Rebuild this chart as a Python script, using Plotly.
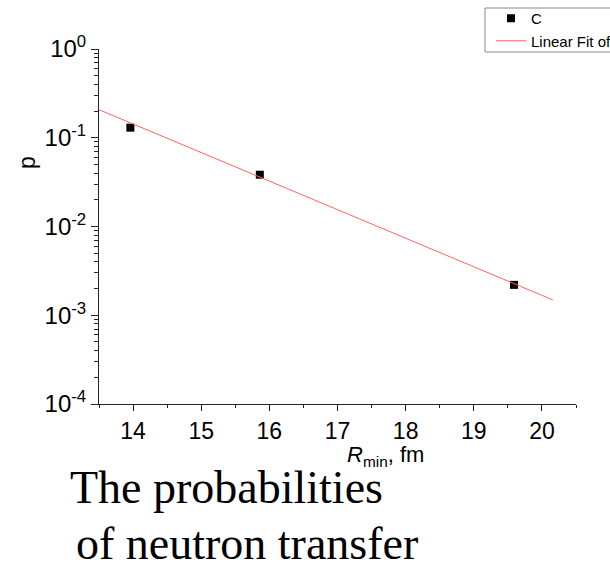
import plotly.graph_objects as go

# Data
r_min = [13.96, 15.86, 19.59]
prob = [0.13, 0.0383, 0.0022]
fit_x = [13.5, 20.16]
fit_y = [0.207, 0.00149]

x_tickvals = [14, 15, 16, 17, 18, 19, 20]
x_minor = [13.5, 14.5, 15.5, 16.5, 17.5, 18.5, 19.5, 20.5]
y_tickvals = [1e-4, 1e-3, 1e-2, 1e-1, 1]
y_ticktext = ["10<sup>-4</sup>", "10<sup>-3</sup>", "10<sup>-2</sup>", "10<sup>-1</sup>", "10<sup>0</sup>"]
y_minor = [k * 10.0 ** e for e in range(-4, 0) for k in range(2, 10)]

W, H = 610, 566
L, R, T, B = 99, 34, 49, 162
pw, ph = W - L - R, H - T - B

def px(xpix):
    return (xpix - L) / pw

def py(ypix):
    return (H - B - ypix) / ph

FONT = "Arial, Liberation Sans, sans-serif"
AX = "#222222"

fig = go.Figure()
fig.add_trace(go.Scatter(x=r_min, y=prob, mode="markers", name="C",
                         marker=dict(symbol="square", size=8, color="black",
                                     line=dict(width=0))))
fig.add_trace(go.Scatter(x=fit_x, y=fit_y, mode="lines", name="Linear Fit of C",
                         line=dict(color="#ff6464", width=1)))
# invisible carriers so the minor-tick overlay axes get drawn
fig.add_trace(go.Scatter(x=[None], y=[None], xaxis="x2", yaxis="y", showlegend=False,
                         hoverinfo="skip"))
fig.add_trace(go.Scatter(x=[None], y=[None], xaxis="x", yaxis="y2", showlegend=False,
                         hoverinfo="skip"))

fig.update_layout(
    width=W, height=H,
    margin=dict(l=L, r=R, t=T, b=B, autoexpand=False),
    paper_bgcolor="white", plot_bgcolor="white",
    font=dict(family=FONT, color="black"),
    legend=dict(x=px(491), y=py(2), xanchor="left", yanchor="top",
                borderwidth=0, bgcolor="rgba(0,0,0,0)",
                font=dict(size=15, family=FONT), tracegroupgap=0,
                itemwidth=30),
    showlegend=True,
    xaxis=dict(range=[13.5, 20.5], showgrid=False, zeroline=False,
               showline=True, linecolor=AX, linewidth=1,
               ticks="outside", ticklen=6, tickcolor=AX, tickwidth=1,
               tickmode="array", tickvals=x_tickvals,
               ticktext=[str(v) for v in x_tickvals],
               tickfont=dict(size=23, family=FONT)),
    yaxis=dict(type="log", range=[-4, 0], showgrid=False, zeroline=False,
               showline=True, linecolor=AX, linewidth=1,
               ticks="outside", ticklen=7, tickcolor=AX, tickwidth=1,
               tickmode="array", tickvals=y_tickvals, ticktext=y_ticktext,
               tickfont=dict(size=24, family=FONT)),
    xaxis2=dict(overlaying="x", anchor="y", side="bottom", range=[13.5, 20.5],
                tickmode="array", tickvals=x_minor, ticks="outside", ticklen=3,
                tickcolor=AX, tickwidth=1, showticklabels=False, showline=False,
                showgrid=False, zeroline=False),
    yaxis2=dict(overlaying="y", anchor="x", side="left", type="log", range=[-4, 0],
                tickmode="array", tickvals=y_minor, ticks="outside", ticklen=4,
                tickcolor=AX, tickwidth=1, showticklabels=False, showline=False,
                showgrid=False, zeroline=False),
)

# legend frame
fig.add_shape(type="rect", xref="paper", yref="paper",
              x0=px(485), x1=px(640), y0=py(52), y1=py(8),
              line=dict(color="#888888", width=1), fillcolor="rgba(0,0,0,0)")

# axis titles
fig.add_annotation(x=px(385), y=py(456), xref="paper", yref="paper",
                   text="<i>R</i><sub>min</sub>, fm", showarrow=False,
                   font=dict(size=22, family=FONT), xanchor="center", yanchor="middle")
fig.add_annotation(x=px(27), y=py(163), xref="paper", yref="paper",
                   text="p", showarrow=False, textangle=-90,
                   font=dict(size=23, family=FONT), xanchor="center", yanchor="middle")

# caption
SERIF = "Times New Roman, Liberation Serif, serif"
fig.add_annotation(x=px(68), y=py(488), xref="paper", yref="paper",
                   text="The probabilities", showarrow=False,
                   font=dict(size=46, family=SERIF), xanchor="left", yanchor="middle")
fig.add_annotation(x=px(74), y=py(543), xref="paper", yref="paper",
                   text="of neutron transfer", showarrow=False,
                   font=dict(size=46, family=SERIF), xanchor="left", yanchor="middle")

fig.write_html("out.html")
